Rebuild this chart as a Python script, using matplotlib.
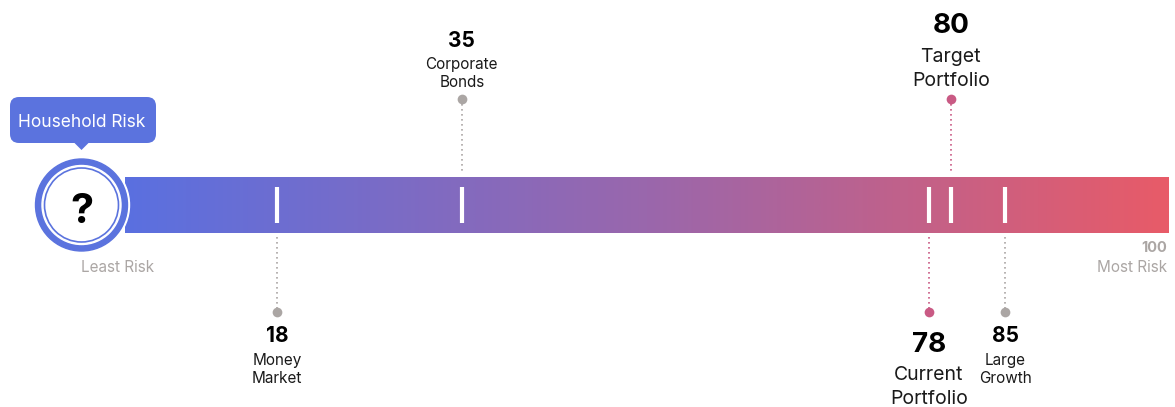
import numpy as np
import matplotlib
matplotlib.use('Agg')
import matplotlib.pyplot as plt
from matplotlib.patches import Ellipse, FancyBboxPatch, Polygon
from matplotlib.colors import LinearSegmentedColormap

plt.rcParams['font.family'] = ['Inter', 'DejaVu Sans']

# data
names = ['Money\nMarket', 'Corporate\nBonds', 'Current\nPortfolio', 'Target\nPortfolio', 'Large\nGrowth']
values = [18, 35, 78, 80, 85]
above = [False, True, False, True, False]
is_portfolio = [False, False, True, True, False]
household_label = 'Household Risk'
low_label = 'Least Risk'
high_label = 'Most Risk'
high_value = 100

blue = '#5b73de'
pink = '#c95a84'
gray = '#aba6a4'
sx = 10.865  # pixels per risk unit

fig = plt.figure(figsize=(11.75, 4.07), dpi=100)
ax = fig.add_axes([0, 0, 1, 1])
ax.set_xlim(-81.5 / sx, (1175 - 81.5) / sx)
ax.set_ylim(407, 0)
ax.axis('off')

# gradient bar
cmap = LinearSegmentedColormap.from_list('risk', ['#5a70e0', '#9a67ac', '#e85b68'])
grad = np.linspace(0, 1, 512).reshape(1, -1)
ax.imshow(grad, cmap=cmap, extent=(4, high_value, 233, 177), aspect='auto', zorder=1)

# markers
for n, v, up, hp in zip(names, values, above, is_portfolio):
    ax.plot([v, v], [187, 223], color='white', lw=3, solid_capstyle='butt', zorder=3)
    c = pink if hp else gray
    if up:
        ax.plot([v, v], [99, 173], color=c, lw=1.2, ls=(0, (1, 2)), zorder=2)
        ax.plot(v, 99, 'o', color=c, ms=7, mec='none', zorder=3)
    else:
        ax.plot([v, v], [237, 312], color=c, lw=1.2, ls=(0, (1, 2)), zorder=2)
        ax.plot(v, 312, 'o', color=c, ms=7, mec='none', zorder=3)
    l1, l2 = n.split('\n')
    if hp:
        nsize, lsize = 20, 14
        if up:
            ys = (33, 62, 86)
        else:
            ys = (352, 380, 404)
    else:
        nsize, lsize = 15, 11
        if up:
            ys = (47, 69, 87)
        else:
            ys = (342, 365, 383)
    ax.text(v, ys[0], str(v), ha='center', va='baseline', fontsize=nsize, fontweight='bold', color='black')
    ax.text(v, ys[1], l1, ha='center', va='baseline', fontsize=lsize, color='#1a1a1a')
    ax.text(v, ys[2], l2, ha='center', va='baseline', fontsize=lsize, color='#1a1a1a')

# household circle
ax.add_patch(Ellipse((0, 205), 2 * 48 / sx, 2 * 48, color='white', zorder=4))
ax.add_patch(Ellipse((0, 205), 2 * 46 / sx, 2 * 46, color=blue, zorder=5))
ax.add_patch(Ellipse((0, 205), 2 * 39.5 / sx, 2 * 39.5, color='white', zorder=6))
ax.add_patch(Ellipse((0, 205), 2 * 37 / sx, 2 * 37, facecolor='white', edgecolor=blue, lw=1.2, zorder=7))
ax.text(0, 223, '?', ha='center', va='baseline', fontsize=30, fontweight='bold', color='black', zorder=8)

# tooltip
ax.add_patch(FancyBboxPatch((-71.5 / sx, 97), 146 / sx, 46,
                            boxstyle='round,pad=0,rounding_size=%f' % (9 / sx),
                            mutation_aspect=sx, facecolor=blue, edgecolor='none', zorder=5))
ax.add_patch(Polygon([(-8 / sx, 142), (8 / sx, 142), (0, 150)], closed=True, facecolor=blue, edgecolor='none', zorder=5))
ax.text(0, 127, household_label, ha='center', va='baseline', fontsize=12.5, color='white', zorder=6)

# end labels
ax.text(36.5 / sx, 272, low_label, ha='center', va='baseline', fontsize=11, color=gray)
ax.text(99.9, 252, str(high_value), ha='right', va='baseline', fontsize=10.5, fontweight='bold', color=gray)
ax.text(99.9, 272, high_label, ha='right', va='baseline', fontsize=11, color=gray)

fig.savefig('out.png', dpi=100)
